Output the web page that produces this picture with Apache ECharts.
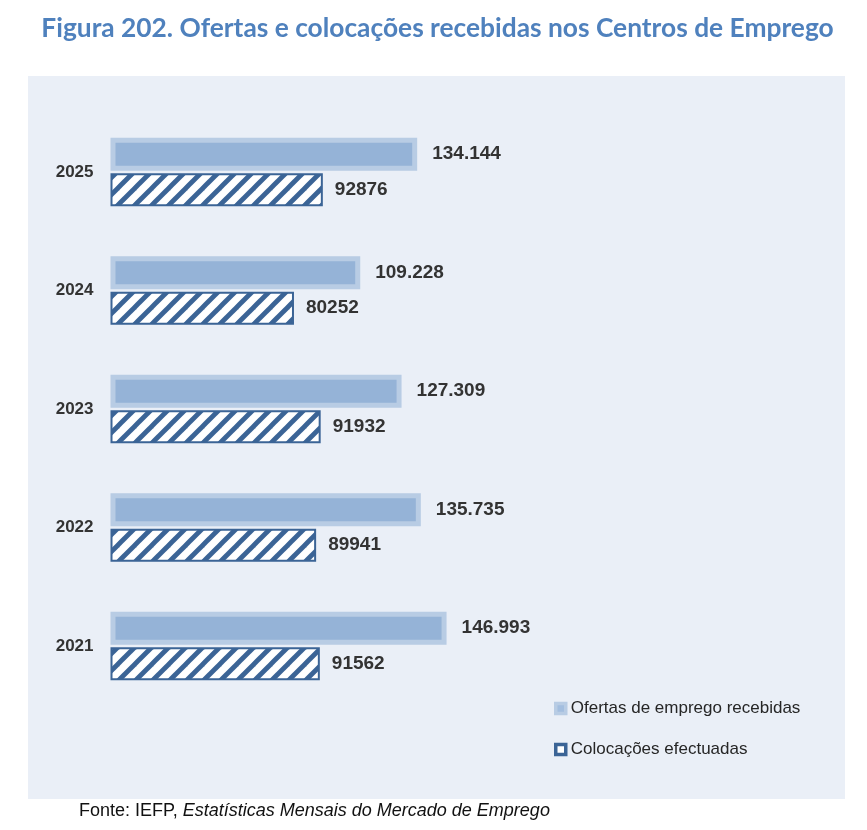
<!DOCTYPE html>
<html>
<head>
<meta charset="utf-8">
<script src="https://cdn.jsdelivr.net/npm/echarts@6/dist/echarts.min.js"></script>
<style>
html,body{margin:0;padding:0;background:#fff;}
#chart{width:867px;height:830px;}
</style>
</head>
<body>
<div id="chart"></div>
<script>
const years = ['2021', '2022', '2023', '2024', '2025'];
const ofertas = [146993, 135735, 127309, 109228, 134144];
const colocacoes = [91562, 89941, 91932, 80252, 92876];
const seriesNames = ['Ofertas de emprego recebidas', 'Colocações efectuadas'];
const titleText = 'Figura 202. Ofertas e colocações recebidas nos Centros de Emprego';

function dotThousands(v) {
  return String(v).replace(/\B(?=(\d{3})+(?!\d))/g, '.');
}

// hatch pattern (diagonal "/" stripes)
const P = 17;
const pat = document.createElement('canvas');
pat.width = P; pat.height = P;
const pc = pat.getContext('2d');
pc.fillStyle = '#ffffff';
pc.fillRect(0, 0, P, P);
pc.strokeStyle = '#3b6496';
pc.lineWidth = 4.8;
pc.lineCap = 'square';
for (let k = -1; k <= 1; k++) {
  pc.beginPath();
  pc.moveTo(k * P - P, 2 * P);
  pc.lineTo(k * P + 2 * P, -P);
  pc.stroke();
}

// title font sizing to match target width
const mc = document.createElement('canvas').getContext('2d');
mc.font = 'bold 27px Lato';
const titleSize = 27 * 793 / mc.measureText(titleText).width;

const chart = echarts.init(document.getElementById('chart'), null, {renderer: 'canvas'});
const option = {
  animation: false,
  backgroundColor: '#ffffff',
  grid: {left: 110.5, right: 390.7, top: 112.75, bottom: 124.75, containLabel: false},
  xAxis: {
    type: 'value', min: 0, max: 160000, show: false
  },
  yAxis: {
    type: 'category', data: years,
    axisLine: {show: false}, axisTick: {show: false}, splitLine: {show: false},
    axisLabel: {margin: 17, fontFamily: 'Liberation Sans', fontWeight: 'bold', fontSize: 17, color: '#333333'}
  },
  legend: {
    orient: 'vertical', left: 554, top: 700, padding: 0,
    itemWidth: 10, itemHeight: 10, itemGap: 24,
    textStyle: {fontFamily: 'Liberation Sans', fontSize: 17, color: '#262626'},
    data: [
      {name: seriesNames[0], icon: 'rect', itemStyle: {color: '#a3bedf', borderColor: '#b8cce4', borderWidth: 3.5}},
      {name: seriesNames[1], icon: 'rect', itemStyle: {color: '#ffffff', borderColor: '#3b6496', borderWidth: 3.5}}
    ]
  },
  graphic: [
    {type: 'rect', z: -10, silent: true, shape: {x: 28, y: 76, width: 817, height: 723}, style: {fill: '#eaeff7'}},
    {type: 'text', z: 10, x: 437.5, y: 28.5, style: {text: titleText, fontFamily: 'Lato', fontWeight: 'bold', fontSize: titleSize, fill: '#4f81bd', align: 'center', verticalAlign: 'middle'}},
    {type: 'text', z: 10, x: 79, y: 811, style: {
      text: '{a|Fonte: IEFP, }{b|Estatísticas Mensais do Mercado de Emprego}',
      verticalAlign: 'middle', align: 'left',
      rich: {
        a: {fontFamily: 'Liberation Sans', fontSize: 18, fill: '#111111'},
        b: {fontFamily: 'Liberation Sans', fontSize: 18, fontStyle: 'italic', fill: '#111111'}
      }
    }}
  ],
  series: [
    {
      name: seriesNames[0], type: 'bar', data: ofertas,
      barWidth: 33, barGap: '7.6%',
      itemStyle: {color: '#95b3d7', borderColor: '#b8cce4', borderWidth: 5},
      label: {show: true, position: 'right', distance: 15, fontFamily: 'Liberation Sans', fontWeight: 'bold', fontSize: 19, color: '#333333',
        formatter: p => dotThousands(p.value)}
    },
    {
      name: seriesNames[1], type: 'bar', data: colocacoes,
      barWidth: 33, barGap: '7.6%',
      itemStyle: {color: {image: pat, repeat: 'repeat'}, borderColor: '#3b6496', borderWidth: 2},
      label: {show: true, position: 'right', distance: 12, fontFamily: 'Liberation Sans', fontWeight: 'bold', fontSize: 19, color: '#333333',
        formatter: p => String(p.value)}
    }
  ]
};
chart.setOption(option);
</script>
</body>
</html>
